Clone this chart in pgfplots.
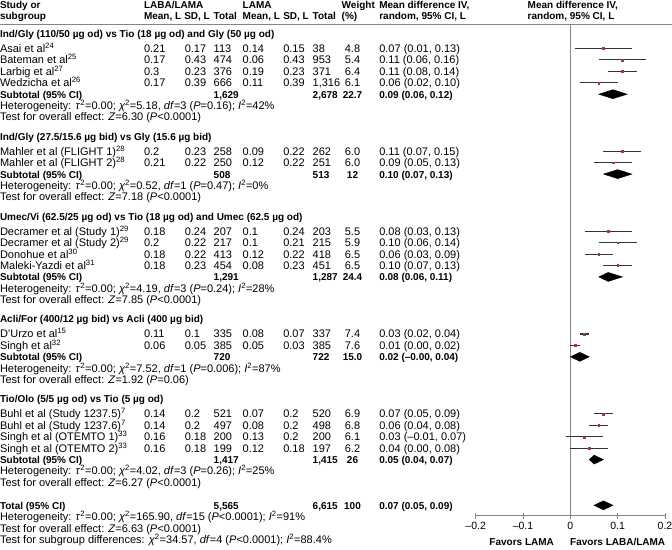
\documentclass[border=0pt]{standalone}
\usepackage{pgfplots}
\pgfplotsset{compat=1.18}
\usepackage{pgfplotstable}
\usepackage{fontspec}
\setmainfont{Liberation Sans}

\definecolor{cigray}{HTML}{333333}
\definecolor{ptred}{HTML}{A23B36}
\definecolor{axgray}{HTML}{858585}

% study rows: y position (px from top), estimate, lower, upper
\pgfplotstableread{
row   est   lo    hi
48.5  0.07  0.01  0.13
59.9  0.11  0.06  0.16
71.3  0.11  0.08  0.14
82.8  0.06  0.02  0.10
151.3 0.11  0.07  0.15
162.7 0.09  0.05  0.13
231.2 0.08  0.03  0.13
242.6 0.10  0.06  0.14
254.1 0.06  0.03  0.09
265.5 0.10  0.07  0.13
334.0 0.03  0.02  0.04
345.4 0.01  0.00  0.02
413.9 0.07  0.05  0.09
425.4 0.06  0.04  0.08
436.8 0.03  -0.01 0.07
448.2 0.04  0.00  0.08
}\studies

\newcommand\fs{\fontsize{11}{12.5}\selectfont}
\newcommand\B{\fontsize{10}{12}\selectfont\bfseries}
\tikzset{T/.style={anchor=base west, inner sep=0pt, outer sep=0pt, font=\fs}}
\newcommand\bl{3.9}
% y, name, mean1, sd1, n1, mean2, sd2, n2
\newcommand\trow[8]{%
  \node[T] at (0,{#1+\bl}) {#2};
  \node[T] at (144,{#1+\bl}) {#3};
  \node[T] at (184.8,{#1+\bl}) {#4};
  \node[T] at (213.7,{#1+\bl}) {#5};
  \node[T] at (242.7,{#1+\bl}) {#6};
  \node[T] at (283.3,{#1+\bl}) {#7};
  \node[T] at (312.7,{#1+\bl}) {#8};}
% y, weight, mean difference text
\newcommand\wmd[3]{%
  \node[T,anchor=base] at (352.5,{#1+\bl}) {#2};
  \node[T] at (379.3,{#1+\bl}) {#3};}
\newcommand\tline[2]{\node[T] at (0,{#1+\bl}) {#2};}
\newcommand\hd[3]{\node[T] at (#1,{#2+\bl}) {\B #3};}
\newcommand\het[4]{Heterogeneity: \textit{τ}\textsuperscript{2}=0.00; \textit{χ}\textsuperscript{2}=#1, \textit{df}=#2 (\textit{P}#3); \textit{I}\textsuperscript{2}=#4\%}
\newcommand\ovr[2]{Test for overall effect: \textit{Z}=#1 (\textit{P}#2)}

\begin{document}
\begin{tikzpicture}
\useasboundingbox (0,0) rectangle (672pt,-549pt);
\begin{axis}[
  at={(475.7pt,-515.7pt)}, anchor=south west,
  scale only axis, width=189.3pt, height=491.7pt,
  xmin=-0.2, xmax=0.2, ymin=24, ymax=515.7, y dir=reverse,
  axis x line*=bottom, axis y line=none,
  axis line style={axgray, line width=1pt},
  xtick={-0.2,-0.1,0,0.1,0.2},
  xticklabels={–0.2,–0.1,0,0.1,0.2},
  tick align=center, major tick length=6pt,
  tick style={axgray, line width=1pt},
  xticklabel style={font=\fontsize{10.5}{12}\selectfont, text=black},
  clip=false,
]
\draw[axgray, line width=1.5pt] (axis cs:0,24) -- (axis cs:0,515.7);
\addplot[only marks, mark=square*, mark size=0.9pt, color=ptred,
  error bars/.cd, x dir=both, x explicit, error mark=none,
  error bar style={draw=cigray, line width=1.1pt}]
  table[x=est, y=row,
    x error plus expr=\thisrow{hi}-\thisrow{est},
    x error minus expr=\thisrow{est}-\thisrow{lo}] {\studies};
% pooled estimates (diamonds)
\addplot[fill=black, draw=black] coordinates {(0.06,94.2) (0.09,89.7) (0.12,94.2) (0.09,98.7)} --cycle;
\addplot[fill=black, draw=black] coordinates {(0.07,174.1) (0.10,169.6) (0.13,174.1) (0.10,178.6)} --cycle;
\addplot[fill=black, draw=black] coordinates {(0.06,276.9) (0.08,272.4) (0.11,276.9) (0.08,281.4)} --cycle;
\addplot[fill=black, draw=black] coordinates {(0.00,356.8) (0.02,352.3) (0.04,356.8) (0.02,361.3)} --cycle;
\addplot[fill=black, draw=black] coordinates {(0.04,459.6) (0.05,455.1) (0.07,459.6) (0.05,464.1)} --cycle;
\addplot[fill=black, draw=black] coordinates {(0.05,505.3) (0.07,500.8) (0.09,505.3) (0.07,509.8)} --cycle;
\end{axis}

\begin{scope}[x=1pt, y=-1pt]
\draw[axgray, line width=1pt] (0,24) -- (672,24);
\hd{0}{4.7}{Study or}
\hd{0}{15.7}{subgroup}
\hd{144}{4.7}{LABA/LAMA}
\hd{144}{15.7}{Mean, L}
\hd{184.3}{15.7}{SD, L}
\hd{213.7}{15.7}{Total}
\hd{242.7}{4.7}{LAMA}
\hd{242.7}{15.7}{Mean, L}
\hd{283.3}{15.7}{SD, L}
\hd{312.7}{15.7}{Total}
\hd{341.7}{4.7}{Weight}
\hd{341.7}{15.7}{(\%)}
\hd{379.3}{4.7}{Mean difference IV,}
\hd{379.3}{15.7}{random, 95\% CI, L}
\hd{527.7}{4.7}{Mean difference IV,}
\hd{527.7}{15.7}{random, 95\% CI, L}
\node[T,anchor=base] at (521.7,{541.7+\bl}) {\B Favors LAMA};
\node[T,anchor=base] at (617.7,{541.7+\bl}) {\B Favors LABA/LAMA};

% group 1
\tline{34.0}{\B Ind/Gly (110/50 µg od) vs Tio (18 µg od) and Gly (50 µg od)}
\trow{48.5}{Asai et al\textsuperscript{24}}{0.21}{0.17}{113}{0.14}{0.15}{38}
\wmd{48.5}{4.8}{0.07 (0.01, 0.13)}
\trow{59.9}{Bateman et al\textsuperscript{25}}{0.17}{0.43}{474}{0.06}{0.43}{953}
\wmd{59.9}{5.4}{0.11 (0.06, 0.16)}
\trow{71.3}{Larbig et al\textsuperscript{27}}{0.3}{0.23}{376}{0.19}{0.23}{371}
\wmd{71.3}{6.4}{0.11 (0.08, 0.14)}
\trow{82.8}{Wedzicha et al\textsuperscript{26}}{0.17}{0.39}{666}{0.11}{0.39}{1,316}
\wmd{82.8}{6.1}{0.06 (0.02, 0.10)}
\trow{94.2}{\B Subtotal (95\% CI)}{}{}{\B 1,629}{}{}{\B 2,678}
\wmd{94.2}{\B 22.7}{\B 0.09 (0.06, 0.12)}
\tline{105.6}{\het{5.18}{3}{=0.16}{42}}
\tline{117.0}{\ovr{6.30}{<0.0001}}

% group 2
\tline{136.3}{\B Ind/Gly (27.5/15.6 µg bid) vs Gly (15.6 µg bid)}
\trow{151.3}{Mahler et al (FLIGHT 1)\textsuperscript{28}}{0.2}{0.23}{258}{0.09}{0.22}{262}
\wmd{151.3}{6.0}{0.11 (0.07, 0.15)}
\trow{162.7}{Mahler et al (FLIGHT 2)\textsuperscript{28}}{0.21}{0.22}{250}{0.12}{0.22}{251}
\wmd{162.7}{6.0}{0.09 (0.05, 0.13)}
\trow{174.1}{\B Subtotal (95\% CI)}{}{}{\B 508}{}{}{\B 513}
\wmd{174.1}{\B 12}{\B 0.10 (0.07, 0.13)}
\tline{185.5}{\het{0.52}{1}{=0.47}{0}}
\tline{196.9}{\ovr{7.18}{<0.0001}}

% group 3
\tline{216.2}{\B Umec/Vi (62.5/25 µg od) vs Tio (18 µg od) and Umec (62.5 µg od)}
\trow{231.2}{Decramer et al (Study 1)\textsuperscript{29}}{0.18}{0.24}{207}{0.1}{0.24}{203}
\wmd{231.2}{5.5}{0.08 (0.03, 0.13)}
\trow{242.6}{Decramer et al (Study 2)\textsuperscript{29}}{0.2}{0.22}{217}{0.1}{0.21}{215}
\wmd{242.6}{5.9}{0.10 (0.06, 0.14)}
\trow{254.1}{Donohue et al\textsuperscript{30}}{0.18}{0.22}{413}{0.12}{0.22}{418}
\wmd{254.1}{6.5}{0.06 (0.03, 0.09)}
\trow{265.5}{Maleki-Yazdi et al\textsuperscript{31}}{0.18}{0.23}{454}{0.08}{0.23}{451}
\wmd{265.5}{6.5}{0.10 (0.07, 0.13)}
\trow{276.9}{\B Subtotal (95\% CI)}{}{}{\B 1,291}{}{}{\B 1,287}
\wmd{276.9}{\B 24.4}{\B 0.08 (0.06, 0.11)}
\tline{288.3}{\het{4.19}{3}{=0.24}{28}}
\tline{299.7}{\ovr{7.85}{<0.0001}}

% group 4
\tline{319.0}{\B Acli/For (400/12 µg bid) vs Acli (400 µg bid)}
\trow{334.0}{D'Urzo et al\textsuperscript{15}}{0.11}{0.1}{335}{0.08}{0.07}{337}
\wmd{334.0}{7.4}{0.03 (0.02, 0.04)}
\trow{345.4}{Singh et al\textsuperscript{32}}{0.06}{0.05}{385}{0.05}{0.03}{385}
\wmd{345.4}{7.6}{0.01 (0.00, 0.02)}
\trow{356.8}{\B Subtotal (95\% CI)}{}{}{\B 720}{}{}{\B 722}
\wmd{356.8}{\B 15.0}{\B 0.02 (–0.00, 0.04)}
\tline{368.3}{\het{7.52}{1}{=0.006}{87}}
\tline{379.7}{\ovr{1.92}{=0.06}}

% group 5
\tline{398.9}{\B Tio/Olo (5/5 µg od) vs Tio (5 µg od)}
\trow{413.9}{Buhl et al (Study 1237.5)\textsuperscript{7}}{0.14}{0.2}{521}{0.07}{0.2}{520}
\wmd{413.9}{6.9}{0.07 (0.05, 0.09)}
\trow{425.4}{Buhl et al (Study 1237.6)\textsuperscript{7}}{0.14}{0.2}{497}{0.08}{0.2}{498}
\wmd{425.4}{6.8}{0.06 (0.04, 0.08)}
\trow{436.8}{Singh et al (OTEMTO 1)\textsuperscript{33}}{0.16}{0.18}{200}{0.13}{0.2}{200}
\wmd{436.8}{6.1}{0.03 (–0.01, 0.07)}
\trow{448.2}{Singh et al (OTEMTO 2)\textsuperscript{33}}{0.16}{0.18}{199}{0.12}{0.18}{197}
\wmd{448.2}{6.2}{0.04 (0.00, 0.08)}
\trow{459.6}{\B Subtotal (95\% CI)}{}{}{\B 1,417}{}{}{\B 1,415}
\wmd{459.6}{\B 26}{\B 0.05 (0.04, 0.07)}
\tline{471.0}{\het{4.02}{3}{=0.26}{25}}
\tline{482.5}{\ovr{6.27}{<0.0001}}

% total
\trow{505.3}{\B Total (95\% CI)}{}{}{\B 5,565}{}{}{\B 6,615}
\wmd{505.3}{\B 100}{\B 0.07 (0.05, 0.09)}
\tline{516.7}{\het{165.90}{15}{<0.0001}{91}}
\tline{528.1}{\ovr{6.63}{<0.0001}}
\tline{539.6}{Test for subgroup differences: \textit{χ}\textsuperscript{2}=34.57, \textit{df}=4 (\textit{P}<0.0001); \textit{I}\textsuperscript{2}=88.4\%}
\end{scope}
\end{tikzpicture}
\end{document}
